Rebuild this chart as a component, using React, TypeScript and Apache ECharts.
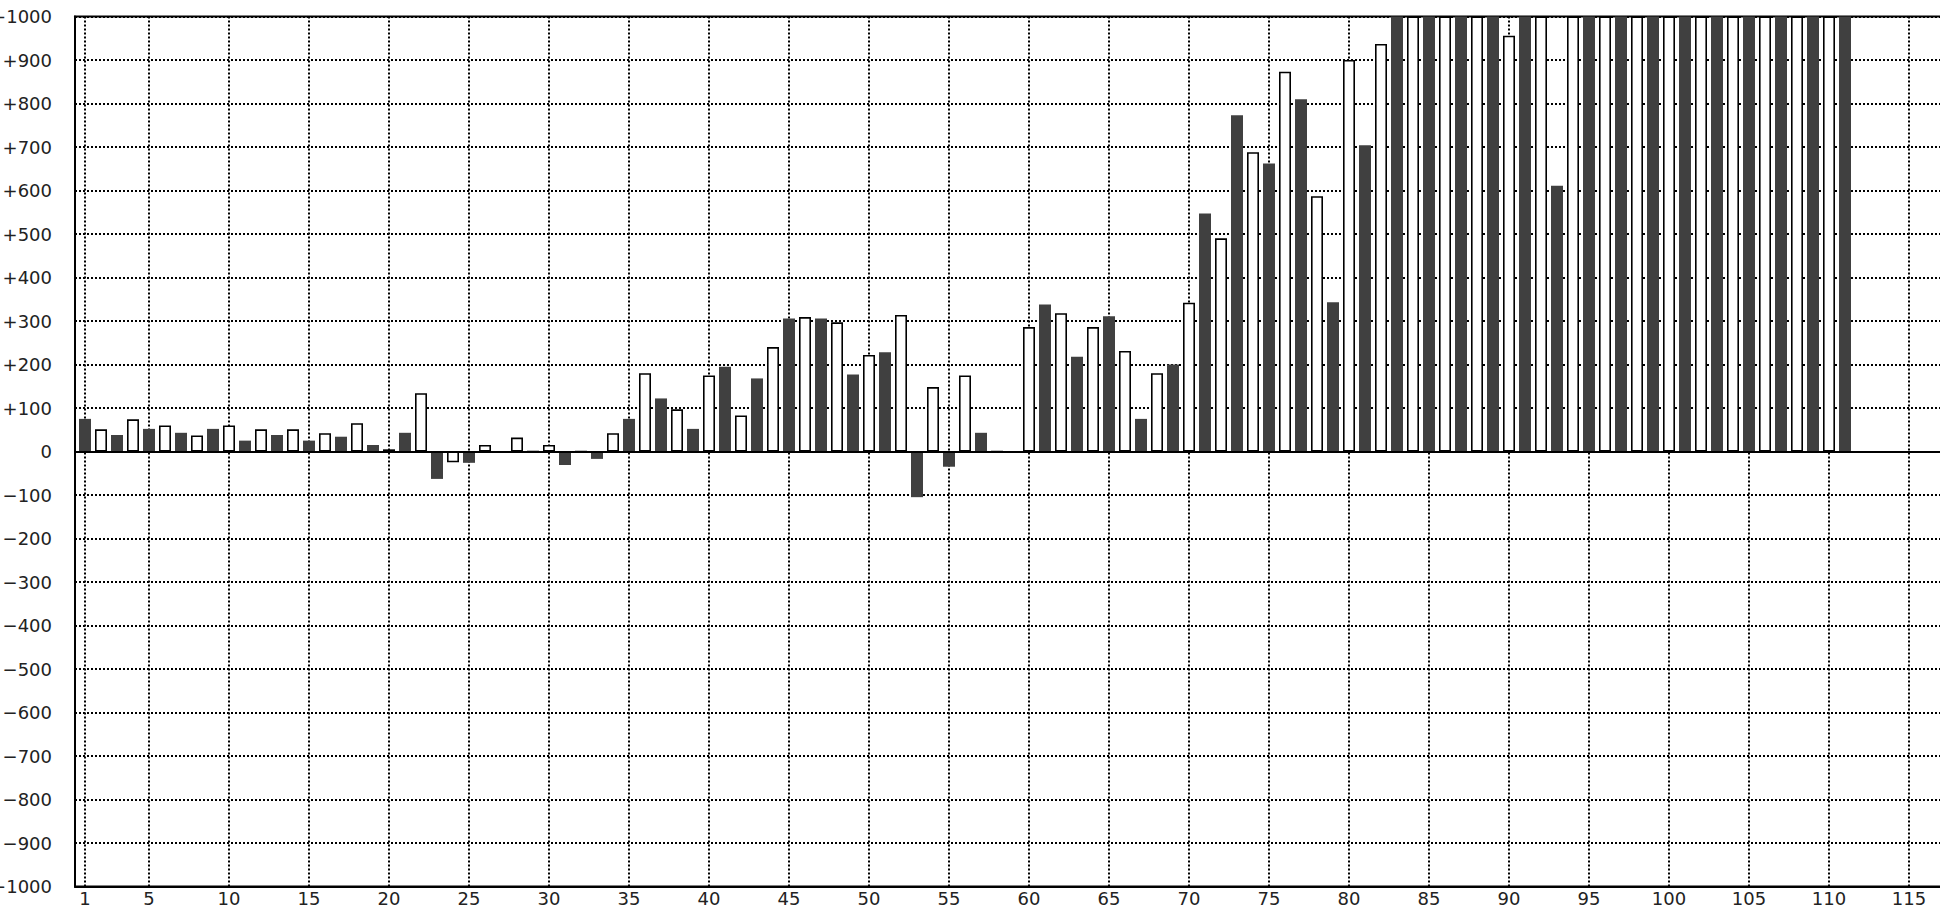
import React, { useEffect, useRef } from "react";
import * as echarts from "echarts";

// x positions 1..111 (index + 1); bars 112-117 empty
const values: number[] = [
  75, 51, 38, 74, 52, 60, 43, 37, 52, 60, // 1-10
  25, 51, 38, 51, 25, 42, 34, 65, 15, 5, // 11-20
  43, 134, -63, -25, -26, 15, 0, 32, 2, 15, // 21-30
  -31, 0, -17, 42, 75, 180, 122, 97, 52, 175, // 31-40
  195, 83, 168, 240, 306, 309, 306, 297, 177, 222, // 41-50
  228, 314, -105, 148, -35, 175, 43, 0, 0, 286, // 51-60
  338, 318, 218, 286, 311, 231, 75, 180, 200, 342, // 61-70
  547, 490, 773, 688, 662, 873, 810, 587, 343, 900, // 71-80
  704, 937, 1000, 1000, 1000, 1000, 1000, 1000, 1000, 956, // 81-90
  1000, 1000, 611, 1000, 1000, 1000, 1000, 1000, 1000, 1000, // 91-100
  1000, 1000, 1000, 1000, 1000, 1000, 1000, 1000, 1000, 1000, // 101-110
  1000, // 111
];

const xTicks: number[] = [1, 5, 10, 15, 20, 25, 30, 35, 40, 45, 50, 55, 60, 65, 70, 75, 80, 85, 90, 95, 100, 105, 110, 115];
const yMin = -1000;
const yMax = 1000;
const yStep = 100;
const xMin = 0.375;
const xMax = 117;

export default function App() {
  const ref = useRef<HTMLDivElement>(null);
  useEffect(() => {
    if (!ref.current) return;
    const chart = echarts.init(ref.current, null, { renderer: "svg" });
    const font = "DejaVu Sans";
    const data = values.map((v, i) => {
      const x = i + 1;
      const dark = x % 2 === 1;
      return {
        value: [x, v],
        itemStyle: dark
          ? { color: "#404040", borderWidth: 0 }
          : { color: "#ffffff", borderColor: "#000000", borderWidth: 1.6 },
      };
    });
    chart.setOption({
      animation: false,
      backgroundColor: "#ffffff",
      grid: {
        left: 75,
        top: 16.5,
        width: 1866,
        height: 870,
        show: true,
        borderColor: "#000",
        borderWidth: 2,
        backgroundColor: "transparent",
        containLabel: false,
        outerBoundsMode: "none",
      },
      xAxis: {
        type: "value",
        min: xMin,
        max: xMax,
        position: "bottom",
        axisLine: { show: true, onZero: false, lineStyle: { color: "#000", width: 2 } },
        axisTick: { show: false, customValues: xTicks },
        axisLabel: {
          customValues: xTicks,
          color: "#222",
          fontFamily: font,
          fontSize: 18,
          margin: 3,
          formatter: (v: number) => String(Math.round(v)),
        },
        splitLine: {
          show: true,
          lineStyle: { color: "#000", width: 2, type: [2, 2] },
        },
      },
      yAxis: {
        type: "value",
        min: yMin,
        max: yMax,
        interval: yStep,
        axisLine: { show: true, lineStyle: { color: "#000", width: 2 } },
        axisTick: { show: false },
        axisLabel: {
          color: "#222",
          fontFamily: font,
          fontSize: 18,
          margin: 23,
          formatter: (v: number) =>
            v > 0 ? "+" + v : v < 0 ? "\u2212" + Math.abs(v) : "0",
        },
        splitLine: {
          show: true,
          lineStyle: { color: "#000", width: 2, type: [2, 2] },
        },
      },
      series: [
        {
          type: "bar",
          barWidth: 12,
          data,
          clip: true,
          markLine: {
            silent: true,
            symbol: "none",
            label: { show: false },
            lineStyle: { color: "#000", width: 2, type: "solid" },
            data: [{ yAxis: 0 }],
            z: 10,
          },
        },
      ],
    });
    return () => chart.dispose();
  }, []);
  return (
    <div
      ref={ref}
      style={{ position: "fixed", left: 0, top: 0, width: 1940, height: 908, background: "#fff" }}
    />
  );
}
